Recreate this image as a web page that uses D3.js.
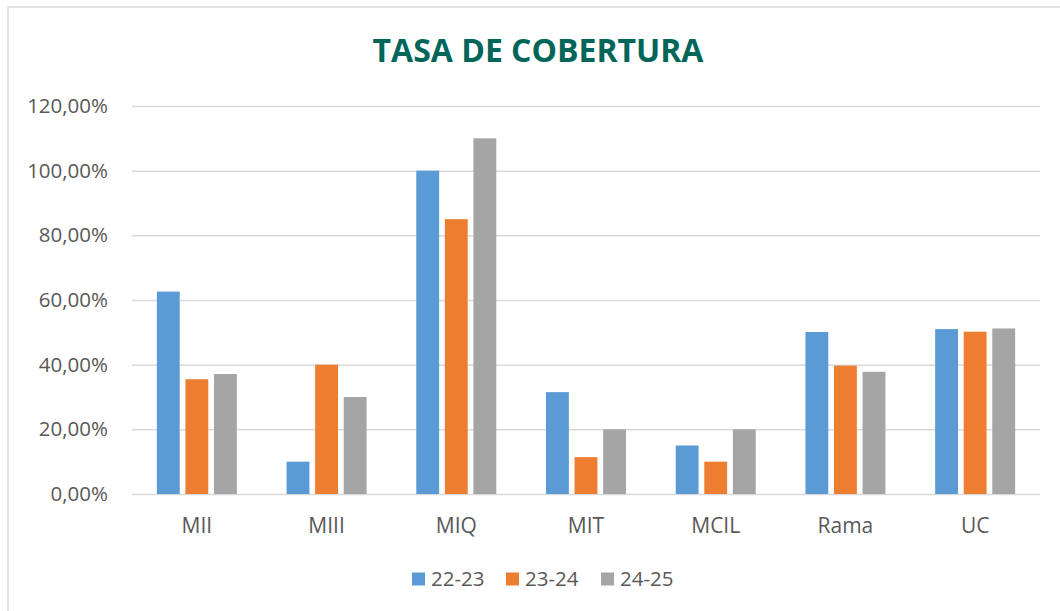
<!DOCTYPE html>
<html>
<head>
<meta charset="utf-8">
<script src="https://cdn.jsdelivr.net/npm/d3@7"></script>
<style>
    body { margin: 0; background: #fff; }
    text { font-family: "Open Sans", "DejaVu Sans", sans-serif; fill: #595959; }
    .title { font-weight: bold; fill: #00665A; }
</style>
</head>
<body>
<div id="chart"></div>
<script>
// categories and series
const categories = ['MII', 'MIII', 'MIQ', 'MIT', 'MCIL', 'Rama', 'UC'];
const seriesNames = ['22-23', '23-24', '24-25'];
const values2223 = [0.626, 0.10, 1.00, 0.315, 0.15, 0.501, 0.51];
const values2324 = [0.355, 0.40, 0.85, 0.114, 0.10, 0.397, 0.502];
const values2425 = [0.371, 0.30, 1.10, 0.20, 0.20, 0.378, 0.512];
const yTicks = [0, 0.2, 0.4, 0.6, 0.8, 1.0, 1.2];
const colors = ['#5B9BD5', '#ED7D31', '#A5A5A5'];

class GroupedBarChart {

    constructor(_config) {
        this.config = {
            parentElement: _config.parentElement,
            containerWidth: _config.containerWidth || 1060,
            containerHeight: _config.containerHeight || 611,
            margin: _config.margin || {top: 106, right: 20, bottom: 117, left: 132}
        };
        this.initVis();
    }

    initVis() {
        let vis = this;

        vis.width = vis.config.containerWidth - vis.config.margin.left - vis.config.margin.right;
        vis.height = vis.config.containerHeight - vis.config.margin.top - vis.config.margin.bottom;

        vis.svg = d3.select(vis.config.parentElement)
            .append('svg')
            .attr('width', vis.config.containerWidth)
            .attr('height', vis.config.containerHeight);

        // outer frame of the chart area
        vis.svg.append('rect')
            .attr('x', 8)
            .attr('y', 7)
            .attr('width', vis.config.containerWidth)
            .attr('height', vis.config.containerHeight)
            .attr('fill', 'none')
            .attr('stroke', '#D9D9D9')
            .attr('stroke-width', 1.5);

        vis.svg.append('text')
            .attr('class', 'title')
            .attr('x', 538)
            .attr('y', 51)
            .attr('dy', '0.35em')
            .attr('text-anchor', 'middle')
            .style('font-size', '32px')
            .text('TASA DE COBERTURA');

        vis.chart = vis.svg.append('g')
            .attr('transform', `translate(${vis.config.margin.left},${vis.config.margin.top})`);

        vis.xScale = d3.scaleBand()
            .domain(categories)
            .range([0, vis.width]);

        // bars in a group: ~80px wide, centered on the category
        const groupHalf = 40;
        vis.xSub = d3.scaleBand()
            .domain(seriesNames)
            .range([vis.xScale.bandwidth() / 2 - groupHalf, vis.xScale.bandwidth() / 2 + groupHalf])
            .paddingInner(0.2);

        vis.yScale = d3.scaleLinear()
            .domain([0, 1.2])
            .range([vis.height, 0]);

        vis.colorScale = d3.scaleOrdinal()
            .domain(seriesNames)
            .range(colors);

        const locale = d3.formatLocale({decimal: ',', thousands: '.', grouping: [3], currency: ['', '€']});
        vis.yFormat = locale.format('.2%');
    }

    updateVis() {
        let vis = this;
        const lists = [values2223, values2324, values2425];
        vis.data = categories.map((c, i) => ({
            key: c,
            values: seriesNames.map((s, j) => ({series: s, value: lists[j][i]}))
        }));
        vis.renderVis();
    }

    renderVis() {
        let vis = this;

        // horizontal gridlines + y labels
        const yAxis = d3.axisLeft(vis.yScale)
            .tickValues(yTicks)
            .tickSize(-vis.width)
            .tickPadding(24)
            .tickFormat(vis.yFormat);

        const yAxisG = vis.chart.append('g').call(yAxis);
        yAxisG.select('.domain').remove();
        yAxisG.selectAll('line')
            .attr('stroke', '#D9D9D9')
            .attr('stroke-width', 1.5);
        yAxisG.selectAll('text')
            .style('font-size', '20.5px')
            .attr('fill', '#595959');

        const groups = vis.chart.selectAll('.group')
            .data(vis.data)
            .join('g')
            .attr('class', 'group')
            .attr('transform', d => `translate(${vis.xScale(d.key)},0)`);

        groups.selectAll('rect')
            .data(d => d.values)
            .join('rect')
            .attr('x', d => vis.xSub(d.series))
            .attr('y', d => vis.yScale(d.value))
            .attr('width', vis.xSub.bandwidth())
            .attr('height', d => vis.height - vis.yScale(d.value))
            .attr('fill', d => vis.colorScale(d.series));

        // category labels
        const xAxis = d3.axisBottom(vis.xScale)
            .tickSize(0)
            .tickPadding(24);
        const xAxisG = vis.chart.append('g')
            .attr('transform', `translate(0,${vis.height})`)
            .call(xAxis);
        xAxisG.select('.domain').remove();
        xAxisG.selectAll('text')
            .style('font-size', '21px')
            .attr('fill', '#595959');

        // legend
        const legendX = [412, 506, 601];
        const legend = vis.svg.selectAll('.legend')
            .data(seriesNames)
            .join('g')
            .attr('class', 'legend')
            .attr('transform', (d, i) => `translate(${legendX[i]},579)`);
        legend.append('rect')
            .attr('x', 0)
            .attr('y', -6.5)
            .attr('width', 13)
            .attr('height', 13)
            .attr('fill', d => vis.colorScale(d));
        legend.append('text')
            .attr('x', 19)
            .attr('dy', '0.35em')
            .style('font-size', '20.5px')
            .text(d => d);
    }
}

const chart = new GroupedBarChart({parentElement: '#chart'});
chart.updateVis();
</script>
</body>
</html>
